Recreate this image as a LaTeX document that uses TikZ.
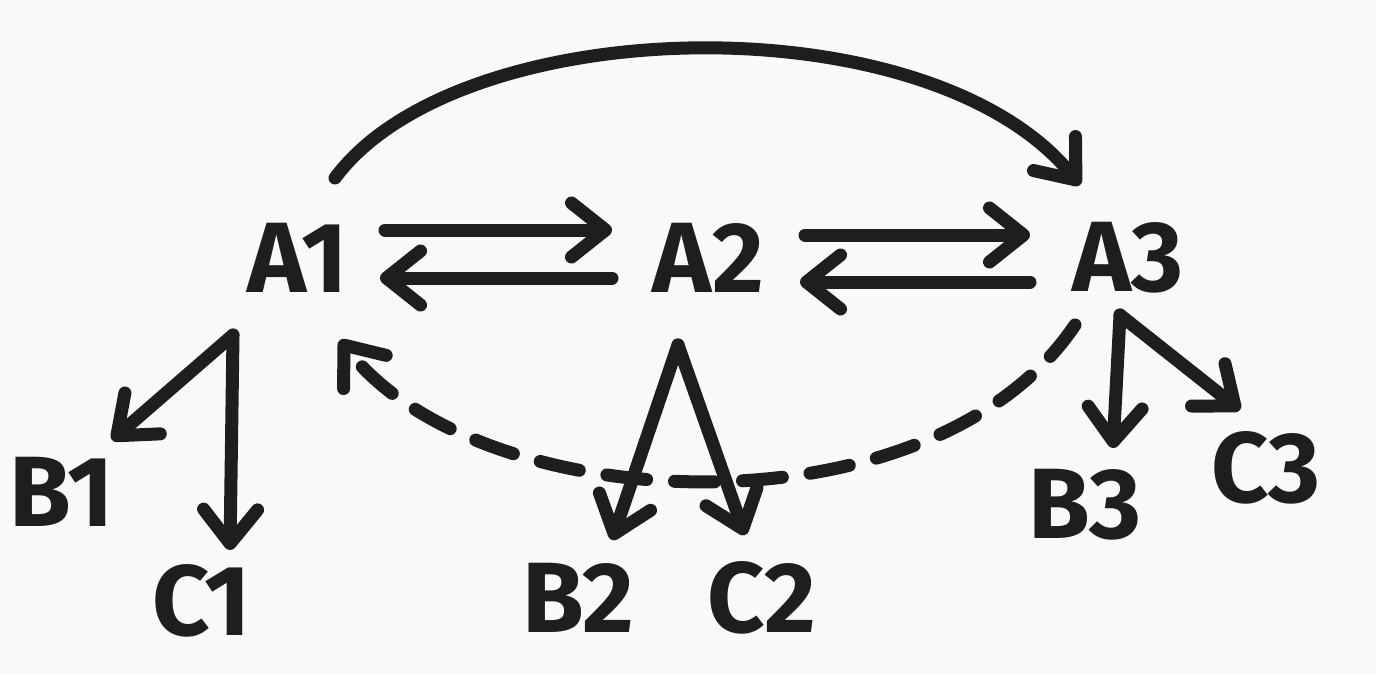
\documentclass[tikz,border=0pt]{standalone}
\usepackage{fontspec}
\setmainfont{Fira Sans}
\usetikzlibrary{arrows.meta}
\definecolor{bgcol}{HTML}{F8F9FA}
\definecolor{inkcol}{HTML}{1E1E1E}
\tikzset{
  lbl/.style={inner sep=0pt,text=inkcol,font=\fontsize{50}{54}\selectfont\bfseries},
  arr/.style={draw=inkcol,line width=6.5pt,line cap=round,line join=round,
    -{Straight Barb[length=17pt,width=27pt,round]}},
  dasharr/.style={arr,dash pattern=on 20pt off 14pt}
}

\begin{document}
\begin{tikzpicture}[x=0.5pt,y=-0.5pt]
        \fill[bgcol] (0,0) rectangle (1376,674);
        \useasboundingbox (0,0) rectangle (1376,674);
        % top row
        \node[lbl] (A1) at (298,258) {A1};
        \node[lbl] (A2) at (708,258) {A2};
        \node[lbl] (A3) at (1128,258) {A3};
        % leaves
        \node[lbl] (B1) at (62,492) {B1};
        \node[lbl] (C1) at (202,601) {C1};
        \node[lbl] (B2) at (578,598) {B2};
        \node[lbl] (C2) at (762,598) {C2};
        \node[lbl] (B3) at (1085,505) {B3};
        \node[lbl] (C3) at (1266,468) {C3};
        % back and forth
        \draw[arr] ([shift={(87,-28)}]A1.center) -- ([shift={(-96,-28)}]A2.center);
        \draw[arr] ([shift={(-96,20)}]A2.center) -- ([shift={(82,20)}]A1.center);
        \draw[arr] ([shift={(97,-23)}]A2.center) -- ([shift={(-98,-23)}]A3.center);
        \draw[arr] ([shift={(-98,24)}]A3.center) -- ([shift={(92,24)}]A2.center);
        % long ones
        \draw[arr] ([shift={(37,-80)}]A1.center) .. controls +(125,-168) and +(-150,-185) .. ([shift={(-48,-73)}]A3.center);
        \draw[dasharr] ([shift={(-53,67)}]A3.center) .. controls +(-145,215) and +(140,180) .. ([shift={(42,82)}]A1.center);
        % down to the leaves
        \draw[arr] ([shift={(-65,77)}]A1.center) -- ([shift={(50,-52)}]B1.center);
        \draw[arr] ([shift={(-65,77)}]A1.center) -- ([shift={(28,-51)}]C1.center);
        \draw[arr] ([shift={(-30,87)}]A2.center) -- ([shift={(34,-58)}]B2.center);
        \draw[arr] ([shift={(-30,87)}]A2.center) -- ([shift={(-17,-63)}]C2.center);
        \draw[arr] ([shift={(-8,57)}]A3.center) -- ([shift={(28,-57)}]B3.center);
        \draw[arr] ([shift={(-8,57)}]A3.center) -- ([shift={(-26,-58)}]C3.center);
\end{tikzpicture}
\end{document}
